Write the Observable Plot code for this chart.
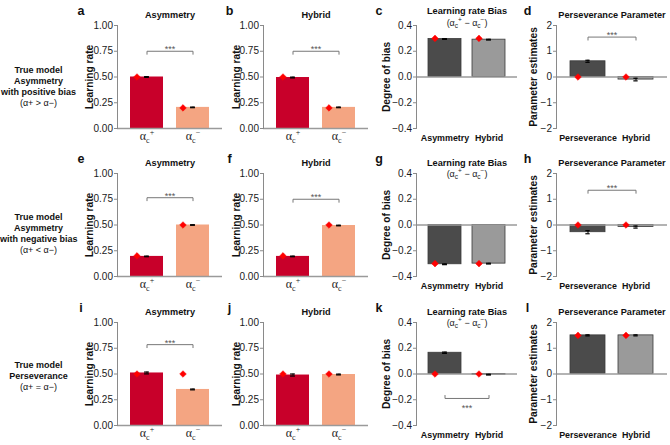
<!DOCTYPE html>
<html><head><meta charset="utf-8">
<script src="https://cdn.jsdelivr.net/npm/d3@7"></script>
<script src="https://cdn.jsdelivr.net/npm/@observablehq/plot@0.6"></script>
<style>
body{margin:0;background:#fff;}
#fig{position:relative;width:670px;height:445px;overflow:hidden;font-family:"Liberation Sans",Arial,sans-serif;color:#222;}
.panel{position:absolute;}
.rowlab{position:absolute;left:0px;width:77px;text-align:center;font-size:9px;font-weight:bold;line-height:11px;color:#111;white-space:nowrap;}
.rowlab .cond{font-weight:normal;}
</style></head><body><div id="fig"></div>
<script>
// ---------- data ----------
const rowLabels = [
  ["True model", "Asymmetry", "with positive bias", "(α+ > α−)"],
  ["True model", "Asymmetry", "with negative bias", "(α+ < α−)"],
  ["True model", "Perseverance", "(α+ = α−)"]
];
const panelLetters = ["a","b","c","d","e","f","g","h","i","j","k","l"];
const lrCats = ["α_c^+", "α_c^−"];
const biasCats = ["Asymmetry", "Hybrid"];
const persCats = ["Perseverance", "Hybrid"];
const panelTitles = ["Asymmetry", "Hybrid", "Learning rate Bias", "Perseverance Parameter"];
const biasSubtitle = "(α_c^+ − α_c^−)";
const yLabels = ["Learning rate", "Learning rate", "Degree of bias", "Parameter estimates"];

// rows = true generating model; values per fitted parameter/model
const asymLR    = [[0.500, 0.205], [0.195, 0.500], [0.510, 0.350]];
const asymLRse  = [[0.004, 0.003], [0.003, 0.003], [0.009, 0.004]];
const hybLR     = [[0.495, 0.205], [0.195, 0.495], [0.490, 0.495]];
const hybLRse   = [[0.004, 0.003], [0.003, 0.003], [0.010, 0.004]];
const trueLR    = [[0.5, 0.2], [0.2, 0.5], [0.5, 0.5]];
const biasEst   = [[0.295, 0.290], [-0.305, -0.300], [0.165, -0.005]];
const biasSE    = [[0.003, 0.003], [0.003, 0.003], [0.005, 0.003]];
const trueBias  = [[0.3, 0.3], [-0.3, -0.3], [0, 0]];
const persEst   = [[0.61, -0.10], [-0.28, -0.08], [1.50, 1.50]];
const persSE    = [[0.04, 0.05], [0.06, 0.04], [0.02, 0.02]];
const truePers  = [[0, 0], [0, 0], [1.5, 1.5]];

const lrTicks = [0, 0.25, 0.5, 0.75, 1];
const biasTicks = [-0.4, -0.2, 0, 0.2, 0.4];
const persTicks = [-2, -1, 0, 1, 2];

// significance brackets (***), height in data units per row; null = none
const sigAsym = [0.75, 0.765, 0.785];
const sigHyb  = [0.75, 0.75, null];
const sigBias = [null, null, -0.19];
const sigPers = [1.55, 1.35, null];

// ---------- styles / layout ----------
const lrColors = ["#c8002a", "#f4a582"];
const grayColors = ["#4b4b4b", "#9a9a9a"];
const cols = [
  {left: 75,  ml: 42, labelDx: -28, pad: 0.28, letterDx: -36.5},
  {left: 221, ml: 42, labelDx: -27, pad: 0.28, letterDx: -34},
  {left: 370, ml: 46, labelDx: -30, pad: 0.26, letterDx: -37.5},
  {left: 520, ml: 36, labelDx: -23, pad: 0.27, letterDx: -29}
];
const rowTops = [0, 148, 297];
const rowLabelTops = [64.5, 211.5, 359.5];

const specs = [
  {cats: lrCats, mean: asymLR, se: asymLRse, truth: trueLR, colors: lrColors, dom: [0, 1], ticks: lrTicks, fmt: ".2f", sig: sigAsym, lr: true},
  {cats: lrCats, mean: hybLR, se: hybLRse, truth: trueLR, colors: lrColors, dom: [0, 1], ticks: lrTicks, fmt: ".2f", sig: sigHyb, lr: true},
  {cats: biasCats, mean: biasEst, se: biasSE, truth: trueBias, colors: grayColors, dom: [-0.4, 0.4], ticks: biasTicks, fmt: ".1f", sig: sigBias, sub: true},
  {cats: persCats, mean: persEst, se: persSE, truth: truePers, colors: grayColors, dom: [-2, 2], ticks: persTicks, fmt: "d", sig: sigPers}
];

const SVGNS = "http://www.w3.org/2000/svg";
function richify(el, small, subShift, supShift) {
  const s = el.textContent;
  const parts = s.match(/_[^_^]|\^[^_^]|[^_^]+/g);
  el.textContent = "";
  let shift = 0;
  for (const p of parts) {
    const t = document.createElementNS(SVGNS, "tspan");
    let target = 0, txt = p, isSmall = false;
    if (p[0] === "_") { target = subShift; txt = p.slice(1); isSmall = true; }
    else if (p[0] === "^") { target = supShift; txt = p.slice(1); isSmall = true; }
    t.setAttribute("dy", target - shift);
    shift = target;
    if (isSmall) t.setAttribute("font-size", small);
    t.textContent = txt;
    el.appendChild(t);
  }
}

const fig = document.getElementById("fig");

rowLabels.forEach((lines, r) => {
  const div = document.createElement("div");
  div.className = "rowlab";
  div.style.top = rowLabelTops[r] + "px";
  div.innerHTML = lines.map((l, i) => i === lines.length - 1 ? `<div class="cond">${l}</div>` : `<div>${l}</div>`).join("");
  fig.appendChild(div);
});

for (let r = 0; r < 3; r++) {
  for (let c = 0; c < 4; c++) {
    const spec = specs[c], col = cols[c];
    const W = 150, H = 150, mt = 25, mb = 22, mr = 3;
    const fw = W - col.ml - mr;
    const step = fw / (2 + col.pad);
    const bw = step * (1 - col.pad);
    const capInset = (bw - 5) / 2;
    const data = spec.cats.map((cat, i) => ({cat, mean: spec.mean[r][i], se: spec.se[r][i], truth: spec.truth[r][i]}));
    const span = spec.dom[1] - spec.dom[0];
    const unit = span / (H - mt - mb);
    const marks = [
      Plot.barY(data, {x: "cat", y: "mean", fill: "cat", stroke: spec.lr ? "none" : "#3a3a3a", strokeWidth: 0.8}),
      Plot.ruleY([0], {stroke: "#9a9a9a", strokeWidth: 1.3}),
      Plot.frame({anchor: "left", stroke: "#8a8a8a"}),
      Plot.axisY({ticks: spec.ticks, tickFormat: d3.format(spec.fmt), tickSize: 3, tickPadding: 1.5, stroke: "#8a8a8a", fill: "#1a1a1a", label: null, fontSize: 10}),
      spec.lr
        ? Plot.axisX({tickSize: 0, tickPadding: 3, label: null, fontSize: 12, fontFamily: "Liberation Serif, serif", fill: "#222"})
        : Plot.axisX({tickSize: 0, tickPadding: 6, label: null, fontSize: 8.9, fontWeight: "bold", fill: "#111"}),
      Plot.ruleX(data, {x: "cat", y1: d => d.mean - d.se, y2: d => d.mean + d.se, stroke: "#000", strokeWidth: 1}),
      Plot.tickY(data, {x: "cat", y: d => d.mean - d.se, insetLeft: capInset, insetRight: capInset, stroke: "#000", strokeWidth: 1.2}),
      Plot.tickY(data, {x: "cat", y: d => d.mean + d.se, insetLeft: capInset, insetRight: capInset, stroke: "#000", strokeWidth: 1.2}),
      Plot.dot(data, {x: "cat", y: "truth", fill: "#ff0000", stroke: "#ff0000", strokeWidth: 0.5, symbol: "diamond2", r: 3, dx: -10}),
      Plot.text([yLabels[c]], {frameAnchor: "left", textAnchor: "middle", lineAnchor: "middle", dx: col.labelDx, rotate: -90, fontWeight: "bold", fontSize: 10.2, fill: "#111"}),
      Plot.text([panelLetters[r * 4 + c]], {frameAnchor: "top-left", textAnchor: "middle", lineAnchor: "middle", dx: col.letterDx, dy: -15, fontWeight: "bold", fontSize: 12.5, fill: "#111"})
    ];
    if (spec.sub) {
      const dys = r === 0 ? [-14, -2] : [-10.5, 0.5];
      marks.push(Plot.text([panelTitles[c]], {frameAnchor: "top", lineAnchor: "middle", dy: dys[0], fontWeight: "bold", fontSize: 9.2, fill: "#111"}));
      marks.push(Plot.text([biasSubtitle], {frameAnchor: "top", lineAnchor: "middle", dy: dys[1], fontSize: 9, fill: "#222"}));
    } else {
      marks.push(Plot.text([panelTitles[c]], {frameAnchor: "top", lineAnchor: "middle", dy: -10, fontWeight: "bold", fontSize: 9.2, fill: "#111"}));
    }
    const sy = spec.sig[r];
    if (sy !== null) {
      const down = sy > 0 ? -1 : 1;
      const tick = 3 * unit * down;
      const pts = [
        {cat: spec.cats[0], y: sy + tick}, {cat: spec.cats[0], y: sy},
        {cat: spec.cats[1], y: sy}, {cat: spec.cats[1], y: sy + tick}
      ];
      marks.push(Plot.line(pts, {x: "cat", y: "y", stroke: "#777", strokeWidth: 1}));
      marks.push(Plot.text([sy], {y: d => d, text: () => "***", frameAnchor: "middle", lineAnchor: "middle", dy: down < 0 ? -2 : 10, fontSize: 9, fill: "#555"}));
    }
    const svg = Plot.plot({
      width: W, height: H, marginLeft: col.ml, marginRight: mr, marginTop: mt, marginBottom: mb,
      style: {background: "transparent", overflow: "visible", fontFamily: "Liberation Sans, Arial, sans-serif", fontSize: "9.3px", color: "#222"},
      x: {type: "band", domain: spec.cats, padding: col.pad, label: null, axis: null},
      y: {domain: spec.dom, label: null, axis: null},
      color: {domain: spec.cats, range: spec.colors},
      marks
    });
    svg.querySelectorAll("text").forEach(t => {
      if (/[_^]/.test(t.textContent)) {
        if (t.textContent.startsWith("(")) richify(t, 6.5, 2, -4);
        else richify(t, 8, 3, -5);
      }
    });
    const div = document.createElement("div");
    div.className = "panel";
    div.style.left = col.left + "px";
    div.style.top = rowTops[r] + "px";
    div.appendChild(svg);
    fig.appendChild(div);
  }
}
</script></body></html>
